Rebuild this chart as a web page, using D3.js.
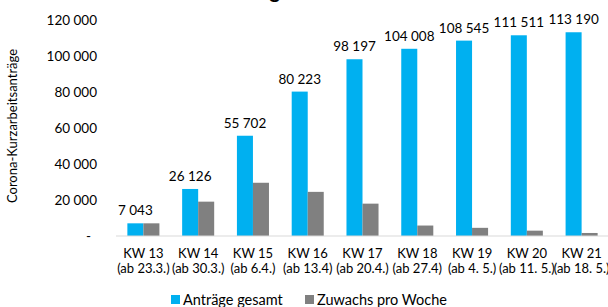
<!DOCTYPE html>
<html>
<head>
<meta charset="utf-8">
<script src="https://cdn.jsdelivr.net/npm/d3@7"></script>
<style>
  body { margin: 0; background: #fff; }
  svg { display: block; font-family: Lato, sans-serif; }
</style>
</head>
<body>
<svg width="608" height="307"></svg>
<script>
// Kalenderwochen + Startdatum
const weeks = ["KW 13", "KW 14", "KW 15", "KW 16", "KW 17", "KW 18", "KW 19", "KW 20", "KW 21"];
const dates = ["(ab 23.3.)", "(ab 30.3.)", "(ab 6.4.)", "(ab 13.4)", "(ab 20.4.)", "(ab 27.4)", "(ab 4. 5.)", "(ab 11. 5.)", "(ab 18. 5.)"];
const gesamt = [7043, 26126, 55702, 80223, 98197, 104008, 108545, 111511, 113190];
const zuwachs = [7043, 19083, 29576, 24521, 17974, 5811, 4537, 2966, 1679];
const seriesNames = ["Anträge gesamt", "Zuwachs pro Woche"];
const yTicks = [0, 20000, 40000, 60000, 80000, 100000, 120000];

const colors = ["#00b0f0", "#808080"];
const svg = d3.select("svg");

const x = d3.scaleBand().domain(weeks).range([116, 609]).paddingInner(0.415).paddingOuter(0.2075);
const xs = d3.scaleBand().domain([0, 1]).range([0, x.bandwidth()]);
const y = d3.scaleLinear().domain([0, 120000]).range([236, 20]);

const fmt = v => v === 0 ? "-" : d3.format(",")(v).replace(/,/g, " ");

// titel (oben abgeschnitten)
svg.append("text")
  .attr("x", 280).attr("y", -2)
  .attr("text-anchor", "end")
  .attr("font-weight", "bold")
  .attr("font-size", 20)
  .text("Entwicklung");

// y-achse labels
svg.append("g")
  .selectAll("text")
  .data(yTicks)
  .join("text")
  .attr("x", d => d === 0 ? 91 : 97)
  .attr("y", d => y(d) + 5)
  .attr("text-anchor", "end")
  .attr("font-size", 13.5)
  .attr("fill", "#000")
  .text(fmt);

svg.append("text")
  .attr("transform", "translate(17,126) rotate(-90)")
  .attr("text-anchor", "middle")
  .attr("font-size", 13)
  .text("Corona-Kurzarbeitsanträge");

// balken
const groups = svg.append("g")
  .selectAll("g")
  .data(weeks)
  .join("g")
  .attr("transform", d => `translate(${x(d)},0)`);

groups.append("rect")
  .attr("x", xs(0)).attr("width", xs.bandwidth())
  .attr("y", (d, i) => y(gesamt[i]))
  .attr("height", (d, i) => y(0) - y(gesamt[i]))
  .attr("fill", colors[0]);

groups.append("rect")
  .attr("x", xs(1)).attr("width", xs.bandwidth())
  .attr("y", (d, i) => y(zuwachs[i]))
  .attr("height", (d, i) => y(0) - y(zuwachs[i]))
  .attr("fill", colors[1]);

groups.append("text")
  .attr("x", xs(0) + xs.bandwidth() / 2)
  .attr("y", (d, i) => y(gesamt[i]) - 8)
  .attr("text-anchor", "middle")
  .attr("font-size", 13.5)
  .text((d, i) => fmt(gesamt[i]));

// x-achse
svg.append("line")
  .attr("x1", 116).attr("x2", 608)
  .attr("y1", y(0)).attr("y2", y(0))
  .attr("stroke", "#d9d9d9").attr("stroke-width", 1);

groups.append("text")
  .attr("x", x.bandwidth() / 2)
  .attr("y", 258)
  .attr("text-anchor", "middle")
  .attr("font-size", 13)
  .text(d => d);

groups.append("text")
  .attr("x", x.bandwidth() / 2)
  .attr("y", 273)
  .attr("text-anchor", "middle")
  .attr("font-size", 13)
  .text((d, i) => dates[i]);

// legende
const legX = [171, 305];
const leg = svg.append("g")
  .selectAll("g")
  .data(seriesNames)
  .join("g")
  .attr("transform", (d, i) => `translate(${legX[i]},295)`);
leg.append("rect").attr("width", 9).attr("height", 9).attr("fill", (d, i) => colors[i]);
leg.append("text").attr("x", 12).attr("y", 9.5).attr("font-size", 14.5).text(d => d);
</script>
</body>
</html>
